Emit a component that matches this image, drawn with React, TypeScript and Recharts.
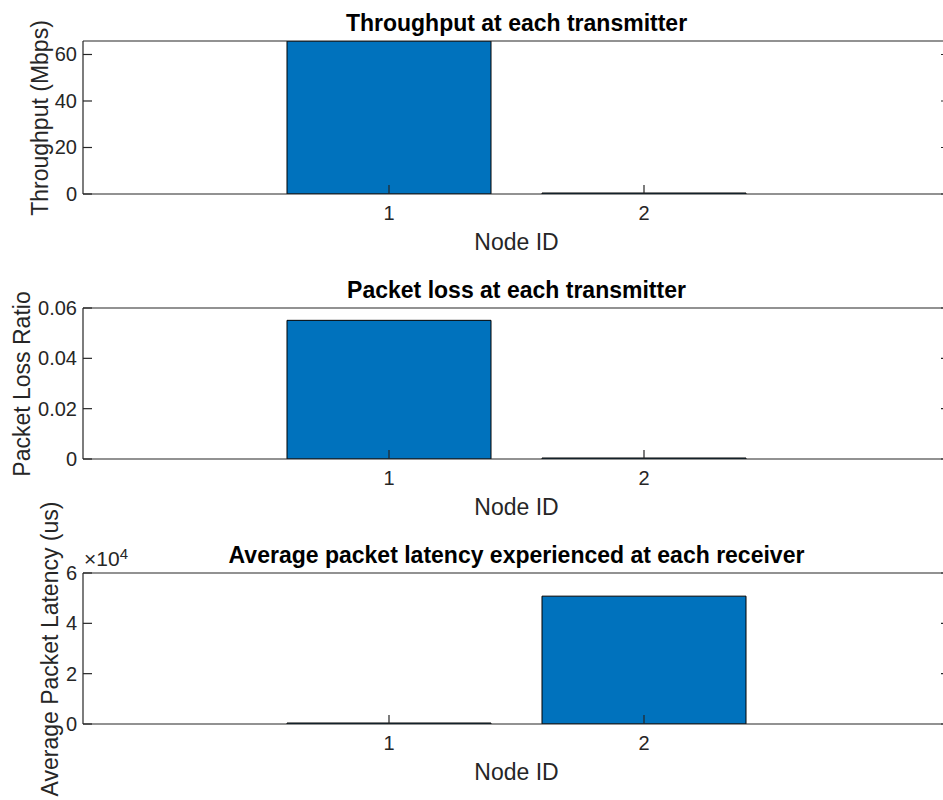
import React from "react";
import { BarChart, Bar, XAxis, YAxis } from "recharts";

// Node IDs on the x axis
const nodeIds = [1, 2];
// Throughput at each transmitter (Mbps)
const throughput = [65.8, 0];
// Packet loss ratio at each transmitter
const packetLossRatio = [0.0551, 0];
// Average packet latency at each receiver (us)
const avgLatency = [0, 50800];

const xTicks = [1, 2];
const throughputTicks = [0, 20, 40, 60];
const lossTicks = [0, 0.02, 0.04, 0.06];
const latencyTicks = [0, 20000, 40000, 60000];

const AXIS = "#262626";
const BAR = "#0072BD";
const FONT = "'Liberation Sans', Arial, Helvetica, sans-serif";
const TICK_FS = 20;
const LABEL_FS = 23;

const W = 980;
const AX = 20; // room given to each axis

function bottomTick(props: any) {
  const { x, y, payload } = props;
  return (
    <g>
      <line x1={x} x2={x} y1={y} y2={y - 9} stroke={AXIS} strokeWidth={1.2} />
      <text x={x} y={y + 26} textAnchor="middle" fill={AXIS} fontSize={TICK_FS} fontFamily={FONT}>
        {payload.value}
      </text>
    </g>
  );
}

function topTick(props: any) {
  const { x, y } = props;
  return <line x1={x} x2={x} y1={y} y2={y + 9} stroke={AXIS} strokeWidth={1.2} />;
}

function makeLeftTick(fmt: (v: number) => string) {
  return (props: any) => {
    const { x, y, payload } = props;
    return (
      <g>
        <line x1={x} x2={x + 9} y1={y} y2={y} stroke={AXIS} strokeWidth={1.2} />
        <text x={x - 6} y={y + 7} textAnchor="end" fill={AXIS} fontSize={TICK_FS} fontFamily={FONT}>
          {fmt(payload.value)}
        </text>
      </g>
    );
  };
}

function rightTick(props: any) {
  const { x, y } = props;
  return <line x1={x} x2={x - 9} y1={y} y2={y} stroke={AXIS} strokeWidth={1.2} />;
}

interface PanelProps {
  top: number;
  height: number;
  plotTop: number;
  plotBottom: number;
  values: number[];
  yMax: number;
  yTicks: number[];
  fmt: (v: number) => string;
}

function Panel({ top, height, plotTop, plotBottom, values, yMax, yTicks, fmt }: PanelProps) {
  const data = nodeIds.map((n, i) => ({ node: n, value: values[i] }));
  const margin = {
    top: plotTop - top - AX,
    bottom: top + height - plotBottom - AX,
    left: 83 - AX,
    right: W - 950 - AX,
  };
  return (
    <div style={{ position: "absolute", left: 0, top, width: W, height }}>
      <BarChart width={W} height={height} data={data} margin={margin} barCategoryGap="10%" barGap={0}>
        <XAxis
          type="number"
          dataKey="node"
          domain={[-0.2, 3.2]}
          ticks={xTicks}
          allowDataOverflow
          height={AX}
          tickSize={0}
          tickMargin={0}
          interval={0}
          tickLine={false}
          tick={bottomTick}
          axisLine={{ stroke: AXIS, strokeWidth: 1.2 }}
        />
        <XAxis
          xAxisId="top"
          orientation="top"
          type="number"
          domain={[-0.2, 3.2]}
          ticks={xTicks}
          allowDataOverflow
          height={AX}
          tickSize={0}
          tickMargin={0}
          interval={0}
          tickLine={false}
          tick={topTick}
          axisLine={{ stroke: AXIS, strokeWidth: 1.2 }}
        />
        <YAxis
          type="number"
          domain={[0, yMax]}
          ticks={yTicks}
          allowDataOverflow
          width={AX}
          tickSize={0}
          tickMargin={0}
          interval={0}
          tickLine={false}
          tick={makeLeftTick(fmt)}
          axisLine={{ stroke: AXIS, strokeWidth: 1.2 }}
        />
        <YAxis
          yAxisId="right"
          orientation="right"
          type="number"
          domain={[0, yMax]}
          ticks={yTicks}
          allowDataOverflow
          width={AX}
          tickSize={0}
          tickMargin={0}
          interval={0}
          tickLine={false}
          tick={rightTick}
          axisLine={{ stroke: AXIS, strokeWidth: 1.2 }}
        />
        <Bar dataKey="value" fill={BAR} stroke="#000" strokeWidth={1} minPointSize={1} isAnimationActive={false} />
      </BarChart>
    </div>
  );
}

const textBase: React.CSSProperties = {
  position: "absolute",
  fontFamily: FONT,
  whiteSpace: "nowrap",
  lineHeight: 1,
};

function Title({ text, cy }: { text: string; cy: number }) {
  return (
    <div
      style={{
        ...textBase,
        left: 516.5,
        top: cy,
        transform: "translate(-50%, -50%)",
        fontSize: LABEL_FS,
        fontWeight: "bold",
        color: "#000",
      }}
    >
      {text}
    </div>
  );
}

function XLabel({ cy }: { cy: number }) {
  return (
    <div
      style={{
        ...textBase,
        left: 516.5,
        top: cy,
        transform: "translate(-50%, -50%)",
        fontSize: LABEL_FS,
        color: AXIS,
      }}
    >
      Node ID
    </div>
  );
}

function YLabel({ text, cx, cy }: { text: string; cx: number; cy: number }) {
  return (
    <div
      style={{
        ...textBase,
        left: cx,
        top: cy,
        transform: "translate(-50%, -50%) rotate(-90deg)",
        fontSize: LABEL_FS,
        color: AXIS,
      }}
    >
      {text}
    </div>
  );
}

export default function App() {
  return (
    <div
      style={{
        position: "absolute",
        left: 0,
        top: 0,
        width: 943,
        height: 800,
        overflow: "hidden",
        background: "#fff",
      }}
    >
      <Panel
        top={0}
        height={266}
        plotTop={41}
        plotBottom={194}
        values={throughput}
        yMax={Math.max(...throughput)}
        yTicks={throughputTicks}
        fmt={(v) => String(v)}
      />
      <Panel
        top={266}
        height={266}
        plotTop={308}
        plotBottom={459}
        values={packetLossRatio}
        yMax={0.06}
        yTicks={lossTicks}
        fmt={(v) => (v === 0 ? "0" : v.toFixed(2))}
      />
      <Panel
        top={532}
        height={268}
        plotTop={573}
        plotBottom={724}
        values={avgLatency}
        yMax={60000}
        yTicks={latencyTicks}
        fmt={(v) => String(v / 10000)}
      />

      <Title text="Throughput at each transmitter" cy={23} />
      <Title text="Packet loss at each transmitter" cy={290} />
      <Title text="Average packet latency experienced at each receiver" cy={555} />

      <XLabel cy={241.5} />
      <XLabel cy={506.5} />
      <XLabel cy={771.5} />

      <YLabel text="Throughput (Mbps)" cx={40} cy={117.5} />
      <YLabel text="Packet Loss Ratio" cx={22} cy={383.5} />
      <YLabel text="Average Packet Latency (us)" cx={50} cy={648.5} />

      <div style={{ ...textBase, left: 84, top: 548, fontSize: 21, color: AXIS }}>
        ×10
        <span style={{ fontSize: 15, position: "relative", top: -7 }}>4</span>
      </div>
    </div>
  );
}
